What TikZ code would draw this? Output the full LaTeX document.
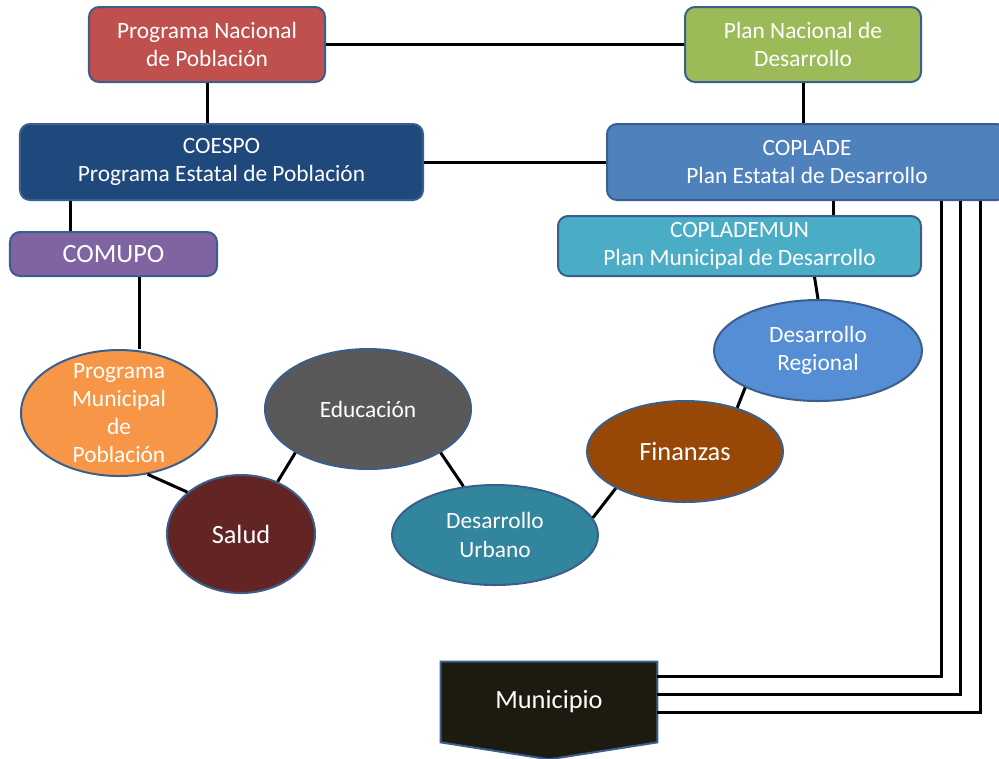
\documentclass[tikz,border=0pt]{standalone}
\usepackage{fontspec}
\setmainfont{Carlito}
\usetikzlibrary{positioning, calc, shapes.geometric, backgrounds}

\definecolor{bordeazul}{HTML}{3A5F8C}
\definecolor{rojonac}{HTML}{C0504D}
\definecolor{verdenac}{HTML}{9BBB59}
\definecolor{azulosc}{HTML}{1F497D}
\definecolor{azulmed}{HTML}{4F81BD}
\definecolor{morado}{HTML}{8064A2}
\definecolor{turquesa}{HTML}{4BACC6}
\definecolor{naranja}{HTML}{F79646}
\definecolor{grisosc}{HTML}{595959}
\definecolor{vino}{HTML}{632523}
\definecolor{petroleo}{HTML}{31859C}
\definecolor{cafe}{HTML}{974806}
\definecolor{azulreg}{HTML}{558ED5}
\definecolor{negromun}{HTML}{1D1B10}

\newcommand{\txtnormal}{\fontsize{13.3}{16}\selectfont}
\newcommand{\txtgrande}{\fontsize{15}{18}\selectfont}

\begin{document}
\begin{tikzpicture}[
    x=0.2mm, y=-0.2mm,
    % --- ESTILOS ---
    caja/.style={
            draw=bordeazul,
            line width=0.4mm,
            rounded corners=2mm,
            text=white,
            align=center,
            inner sep=0pt,
            font=\txtnormal
        },
    tema/.style={
            ellipse,
            draw=bordeazul,
            line width=0.4mm,
            text=white,
            align=center,
            inner sep=0pt,
            font=\txtnormal
        },
    link/.style={
            line width=0.6mm,
            color=black
        }
    ]
    \useasboundingbox (0,0) rectangle (999,758);

    % --- NIVEL NACIONAL ---
    \node[caja, fill=rojonac, minimum width=47.2mm, minimum height=15mm] (pnac) at (207,44.5) {Programa Nacional\\de Población};
    \node[caja, fill=verdenac, minimum width=47.2mm, minimum height=15mm] (pnd) at (803,44.5) {Plan Nacional de\\Desarrollo};

    % --- NIVEL ESTATAL ---
    \node[caja, fill=azulosc, minimum width=80.6mm, minimum height=15.2mm] (coespo) at (221.5,162) {COESPO\\Programa Estatal de Población};
    \node[caja, fill=azulmed, minimum width=80mm, minimum height=15.2mm] (coplade) at (807,162) {COPLADE\\Plan Estatal de Desarrollo};

    % --- NIVEL MUNICIPAL ---
    \node[caja, fill=morado, minimum width=41.4mm, minimum height=8.8mm, font=\txtgrande] (comupo) at (113.5,254) {COMUPO};
    \node[caja, fill=turquesa, minimum width=72.6mm, minimum height=12mm] (coplademun) at (739.5,246) {COPLADEMUN\\Plan Municipal de Desarrollo};

    % --- TEMAS ---
    \node[tema, fill=naranja, minimum width=39.2mm, minimum height=25.2mm,
        label={[text=white, align=center, font=\txtnormal]center:Programa\\Municipal\\de\\Población}] (progmun) at (119,413) {};
    \node[tema, fill=grisosc, minimum width=41.2mm, minimum height=24mm] (edu) at (368,409) {Educación};
    \node[tema, fill=vino, minimum width=29.6mm, minimum height=23.6mm, font=\txtgrande] (salud) at (241,534) {Salud};
    \node[tema, fill=petroleo, minimum width=41.2mm, minimum height=20mm] (desurb) at (495,535) {Desarrollo\\Urbano};
    \node[tema, fill=cafe, minimum width=39.2mm, minimum height=20.2mm, font=\txtgrande] (fin) at (685,451.5) {Finanzas};
    \node[tema, fill=azulreg, minimum width=41.6mm, minimum height=20.2mm] (desreg) at (818,350.5) {Desarrollo\\Regional};

    % --- MUNICIPIO ---
    \node[text=white, font=\txtgrande, minimum width=43.2mm, minimum height=16mm] (muni) at (549,702) {Municipio};
    \begin{scope}[on background layer]
        \draw[fill=negromun, draw=bordeazul, line width=0.4mm]
        (muni.north west) -- (muni.north east) -- (muni.south east) --
        ([yshift=-3.4mm]muni.south) -- (muni.south west) -- cycle;
    \end{scope}

    % --- CONEXIONES ---
    \draw[link] (pnac.east) -- (pnd.west);
    \draw[link] (pnac.south) -- (pnac.south |- coespo.north);
    \draw[link] (pnd.south) -- (pnd.south |- coplade.north);
    \draw[link] (coespo.east) -- (coplade.west);
    \draw[link] ([xshift=-8.7mm]comupo.north) -- ([xshift=-8.7mm]comupo.north |- coespo.south);
    \draw[link] ([xshift=5.1mm]comupo.south) -- ([xshift=5.1mm]comupo.south |- progmun.north);
    \draw[link] ([xshift=18.7mm]coplademun.north) -- ([xshift=18.7mm]coplademun.north |- coplade.south);
    \draw[link] ([xshift=15mm]coplademun.south) -- (desreg.north);

    % cadena de temas
    \draw[link] (desreg.207) -- (fin.40);
    \draw[link] (fin.208) -- (desurb.10);
    \draw[link] (desurb.123) -- (edu.329);
    \draw[link] (edu.211) -- (salud.55);
    \draw[link] (salud.142) -- (progmun.295);

    % COPLADE -> Municipio
    \draw[link] ([xshift=26.8mm]coplade.south) |- ([yshift=5.2mm]muni.east);
    \draw[link] ([xshift=30.6mm]coplade.south) |- ([yshift=1.6mm]muni.east);
    \draw[link] ([xshift=34.6mm]coplade.south) |- ([yshift=-2mm]muni.east);

\end{tikzpicture}
\end{document}
